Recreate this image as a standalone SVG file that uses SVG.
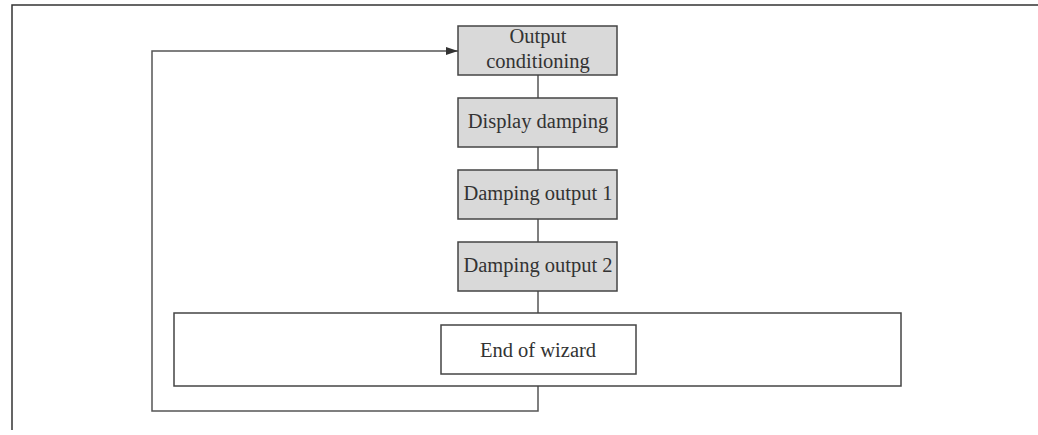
<svg xmlns="http://www.w3.org/2000/svg" width="1038" height="435" viewBox="0 0 1038 435">
<defs>
<style>
.box{fill:#d9d9d9;stroke:#444;stroke-width:1.5}
.wbox{fill:#fff;stroke:#444;stroke-width:1.5}
.ln{fill:none;stroke:#555;stroke-width:1.5}
.frame{fill:none;stroke:#333;stroke-width:1.5}
text{font-family:"Liberation Serif","DejaVu Serif",serif;font-size:20.5px;fill:#333;text-anchor:middle}
</style>
<marker id="ah" markerWidth="12" markerHeight="8" refX="12" refY="4" orient="auto" markerUnits="userSpaceOnUse">
<path d="M0,0 L12,4 L0,8 z" fill="#333"/>
</marker>
</defs>
<path class="frame" d="M12,430 V5 H1038"/>
<g id="connectors">
<path class="ln" d="M538,75 V98"/>
<path class="ln" d="M538,147 V170"/>
<path class="ln" d="M538,219 V242"/>
<path class="ln" d="M538,291 V313"/>
<path class="ln" d="M538,386 V411 H152 V51 H458" marker-end="url(#ah)"/>
</g>
<g id="n1">
<rect class="box" x="458" y="26" width="159" height="49"/>
<text x="538" y="43">Output</text>
<text x="538" y="68">conditioning</text>
</g>
<g id="n2">
<rect class="box" x="458" y="98" width="159" height="49"/>
<text x="538" y="128">Display damping</text>
</g>
<g id="n3">
<rect class="box" x="458" y="170" width="159" height="49"/>
<text x="538" y="200">Damping output 1</text>
</g>
<g id="n4">
<rect class="box" x="458" y="242" width="159" height="49"/>
<text x="538" y="272">Damping output 2</text>
</g>
<g id="n5">
<rect class="wbox" x="174" y="313" width="727" height="73"/>
<rect class="wbox" x="441" y="325" width="195" height="49"/>
<text x="538" y="357">End of wizard</text>
</g>
</svg>
